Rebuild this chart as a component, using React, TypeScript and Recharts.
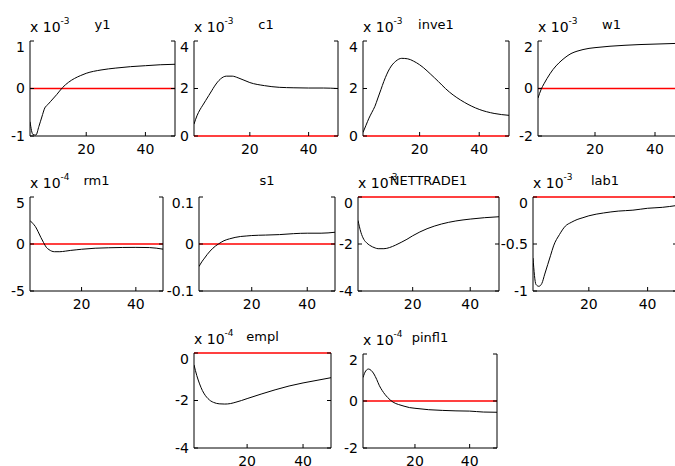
import { LineChart, Line, XAxis, YAxis, ReferenceLine } from 'recharts';

// impulse response periods
const T = [1, 2, 3, 4, 5, 6, 7, 8, 10, 12, 14, 16, 18, 20, 25, 30, 35, 40, 45, 50];

// values are in units of the panel's exponent (x 10^-3, x 10^-4)
const Y1 = [-0.7, -0.97, -0.98, -0.8, -0.6, -0.41, -0.34, -0.27, -0.13, 0.02, 0.13, 0.21, 0.27, 0.32, 0.39, 0.43, 0.46, 0.48, 0.5, 0.51];
const C1 = [0.5, 0.85, 1.1, 1.3, 1.5, 1.7, 1.9, 2.1, 2.4, 2.52, 2.52, 2.45, 2.35, 2.25, 2.12, 2.05, 2.03, 2.02, 2.02, 2.0];
const INVE1 = [0.15, 0.45, 0.75, 1.0, 1.25, 1.6, 1.95, 2.3, 2.85, 3.15, 3.27, 3.25, 3.15, 3.0, 2.45, 1.85, 1.42, 1.12, 0.95, 0.87];
const W1 = [-0.4, -0.05, 0.2, 0.42, 0.62, 0.8, 0.95, 1.08, 1.3, 1.47, 1.57, 1.64, 1.69, 1.72, 1.78, 1.82, 1.85, 1.87, 1.89, 1.91];
const RM1 = [2.5, 2.2, 1.85, 1.3, 0.7, 0.15, -0.35, -0.6, -0.82, -0.82, -0.76, -0.68, -0.62, -0.56, -0.45, -0.4, -0.37, -0.36, -0.38, -0.55];
const S1 = [-0.048, -0.038, -0.03, -0.022, -0.015, -0.009, -0.004, 0.0, 0.007, 0.011, 0.014, 0.016, 0.017, 0.018, 0.019, 0.02, 0.022, 0.023, 0.023, 0.025];
const NETTRADE1 = [-1.0, -1.5, -1.8, -1.95, -2.05, -2.12, -2.17, -2.2, -2.2, -2.15, -2.05, -1.93, -1.8, -1.65, -1.35, -1.15, -1.02, -0.94, -0.88, -0.84];
const LAB1 = [-0.65, -0.93, -0.95, -0.92, -0.82, -0.72, -0.62, -0.52, -0.4, -0.31, -0.27, -0.24, -0.22, -0.2, -0.17, -0.15, -0.14, -0.12, -0.11, -0.09];
const EMPL = [-0.5, -0.95, -1.3, -1.58, -1.78, -1.92, -2.02, -2.08, -2.14, -2.15, -2.13, -2.07, -2.0, -1.92, -1.73, -1.55, -1.39, -1.26, -1.15, -1.04];
const PINFL1 = [1.0, 1.28, 1.36, 1.3, 1.15, 0.92, 0.65, 0.45, 0.15, -0.05, -0.15, -0.22, -0.28, -0.31, -0.37, -0.4, -0.42, -0.43, -0.47, -0.48];

const X_TICKS = [20, 40];

const rows = T.map((t, i) => ({
  t,
  y1: Y1[i],
  c1: C1[i],
  inve1: INVE1[i],
  w1: W1[i],
  rm1: RM1[i],
  s1: S1[i],
  nettrade1: NETTRADE1[i],
  lab1: LAB1[i],
  empl: EMPL[i],
  pinfl1: PINFL1[i],
}));

// box = [left, top, right, bottom] of each plot frame
const panels = [
  { key: 'y1', title: 'y1', exp: '-3', ticks: [-1, 0, 1], box: [30, 41, 175, 136] },
  { key: 'c1', title: 'c1', exp: '-3', ticks: [0, 2, 4], box: [194, 41, 338, 136] },
  { key: 'inve1', title: 'inve1', exp: '-3', ticks: [0, 2, 4], box: [363, 41, 509, 136] },
  { key: 'w1', title: 'w1', exp: '-3', ticks: [-2, 0, 2], box: [538, 41, 685, 136] },
  { key: 'rm1', title: 'rm1', exp: '-4', ticks: [-5, 0, 5], box: [30, 197, 163, 291] },
  { key: 's1', title: 's1', exp: null, ticks: [-0.1, 0, 0.1], box: [199, 197, 335, 291] },
  { key: 'nettrade1', title: 'NETTRADE1', exp: '-3', ticks: [-4, -2, 0], box: [358, 197, 499, 291] },
  { key: 'lab1', title: 'lab1', exp: '-3', ticks: [-1, -0.5, 0], box: [533, 197, 677, 291] },
  { key: 'empl', title: 'empl', exp: '-4', ticks: [-4, -2, 0], box: [194, 353, 331, 448] },
  { key: 'pinfl1', title: 'pinfl1', exp: '-4', ticks: [-2, 0, 2], box: [363, 354, 497, 448] },
];

const FONT = '"DejaVu Sans", sans-serif';
const tickStyle = { fill: '#000', fontSize: 14, fontFamily: FONT };
const noLabel = () => <g />;

function Panel({ p }: any) {
  const [l, t, r, b] = p.box;
  const w = r - l;
  const h = b - t;
  const lo = p.ticks[0];
  const hi = p.ticks[p.ticks.length - 1];
  // the red zero line covers the frame edge when zero sits on it
  return (
    <div style={{ position: 'absolute', left: l - 40, top: t - 2 }}>
      <LineChart width={w + 46} height={h + 28} data={rows} margin={{ top: 2, right: 0, bottom: 0, left: 0 }}>
        <XAxis dataKey="t" type="number" domain={[1, 50]} ticks={X_TICKS} height={26} tickSize={-4} tickMargin={12}
          stroke="#000" tick={tickStyle} axisLine={lo !== 0} allowDataOverflow />
        <XAxis xAxisId="top" orientation="top" dataKey="t" type="number" domain={[1, 50]} ticks={X_TICKS} height={0}
          tickSize={-4} stroke="#000" tick={noLabel} axisLine={hi !== 0} allowDataOverflow />
        <YAxis type="number" domain={[lo, hi]} ticks={p.ticks} width={40} tickSize={-4} tickMargin={9}
          stroke="#000" tick={tickStyle} allowDataOverflow />
        <YAxis yAxisId="r" orientation="right" type="number" domain={[lo, hi]} ticks={p.ticks} width={6}
          tickSize={-4} stroke="#000" tick={noLabel} allowDataOverflow />
        <ReferenceLine y={0} stroke="#ff0000" strokeWidth={1.5} />
        <Line dataKey={p.key} type="monotone" stroke="#000" strokeWidth={1} dot={false} isAnimationActive={false} />
      </LineChart>
    </div>
  );
}

export default function App() {
  return (
    <div style={{ position: 'absolute', left: 0, top: 0, width: 675, height: 466, overflow: 'hidden', background: '#fff' }}>
      {panels.map((p) => (
        <Panel key={p.key} p={p} />
      ))}
      <svg width={675} height={466} style={{ position: 'absolute', left: 0, top: 0, pointerEvents: 'none' }}>
        {panels.map((p) => {
          const [l, t, r] = p.box;
          return (
            <g key={p.key} fontFamily={FONT} fill="#000">
              {p.exp && (
                <text x={l} y={t - 9} fontSize={14}>
                  x 10<tspan dy={-8} fontSize={9}>{p.exp}</tspan>
                </text>
              )}
              <text x={(l + r) / 2} y={t - 12} fontSize={13} textAnchor="middle">
                {p.title}
              </text>
            </g>
          );
        })}
      </svg>
    </div>
  );
}
